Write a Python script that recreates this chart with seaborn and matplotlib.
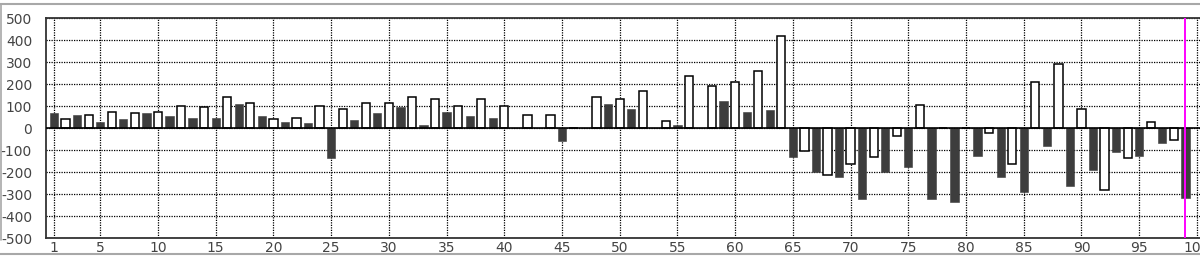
import numpy as np
import pandas as pd
import matplotlib
matplotlib.use("Agg")
import matplotlib.pyplot as plt
from matplotlib.lines import Line2D
import seaborn as sns

# Odd positions (dark bars) and even positions (white bars)
dark_pos = list(range(1, 100, 2))
dark_vals = [67, 61, 29, 41, 67, 55, 47, 47, 107, 55, 28, 21, -135, 35, 67, 95, 14, 75, 54, 47,
             0, 0, -57, 0, 107, 88, 0, 15, 0, 121, 74, 81, -131, -198, -223, -323, -198, -175,
             -323, -337, -129, -223, -291, -83, -263, -191, -109, -129, -69, -317]
white_pos = list(range(2, 101, 2))
white_vals = [41, 60, 74, 66, 74, 98, 94, 140, 112, 41, 46, 98, 88, 113, 113, 140, 134, 98, 134, 98,
              60, 60, 0, 140, 134, 167, 34, 238, 193, 207, 259, 419, -103, -215, -163, -134, -35, 106,
              0, 0, -23, -163, 207, 292, 86, -283, -135, 26, -55, 0]
x_ticks = [1, 5, 10, 15, 20, 25, 30, 35, 40, 45, 50, 55, 60, 65, 70, 75, 80, 85, 90, 95, 100]
y_ticks = [-500, -400, -300, -200, -100, 0, 100, 200, 300, 400, 500]
marker_x = 99

DARK = "#3d3d3d"

df = pd.DataFrame({
    "pos": dark_pos + white_pos[:49],
    "value": dark_vals + white_vals[:49],
    "kind": ["dark"] * len(dark_pos) + ["white"] * 49,
})

sns.set_style("white")
plt.rcParams["font.family"] = ["DejaVu Sans"]

fig = plt.figure(figsize=(12, 2.57), dpi=100)
W, H = 1200, 257
left_px, right_px, top_px, bottom_px = 46, 1205, 18, 238
ax = fig.add_axes([left_px / W, 1 - bottom_px / H, (right_px - left_px) / W, (bottom_px - top_px) / H])

sns.barplot(data=df, x="pos", y="value", hue="kind",
            palette={"dark": DARK, "white": "white"},
            dodge=False, native_scale=True, width=0.72, legend=False, ax=ax,
            saturation=1, zorder=2)

for p in ax.patches:
    fc = p.get_facecolor()
    if fc[0] > 0.9:
        p.set_edgecolor("black")
        p.set_linewidth(1.1)
    else:
        p.set_edgecolor(DARK)
        p.set_linewidth(0.4)

ax.set_xlim(0.3, 100.7)
ax.set_ylim(-500, 500)
ax.set_xticks(x_ticks)
ax.set_xticklabels([str(t) for t in x_ticks])
ax.set_yticks(y_ticks)
ax.set_yticklabels([str(t) for t in y_ticks])
ax.set_xlabel("")
ax.set_ylabel("")

ax.set_axisbelow(True)
ax.grid(True, color="black", linestyle=(0, (1, 1)), linewidth=0.9)
ax.axhline(0, color="black", linewidth=1.2, zorder=3)
ax.axvline(marker_x, color="#ff00ff", linewidth=1.4, zorder=4)

ax.tick_params(axis="both", length=0, labelsize=10, labelcolor="#444444")
ax.tick_params(axis="y", pad=10)
ax.tick_params(axis="x", pad=2)
for s in ["top", "left", "bottom", "right"]:
    ax.spines[s].set_color("#333333")
    ax.spines[s].set_linewidth(1.3)

# outer window frame
fig.add_artist(Line2D([0, 1], [1 - 3.5 / H, 1 - 3.5 / H], color="#a8a8a8", linewidth=1.5, transform=fig.transFigure))
fig.add_artist(Line2D([1 / W, 1 / W], [1 - 3.5 / H, 1 - 240 / H], color="#a8a8a8", linewidth=1.2, transform=fig.transFigure))
fig.add_artist(Line2D([0, 1], [3 / H, 3 / H], color="#a8a8a8", linewidth=1.5, transform=fig.transFigure))

fig.savefig("out.png", dpi=100)
